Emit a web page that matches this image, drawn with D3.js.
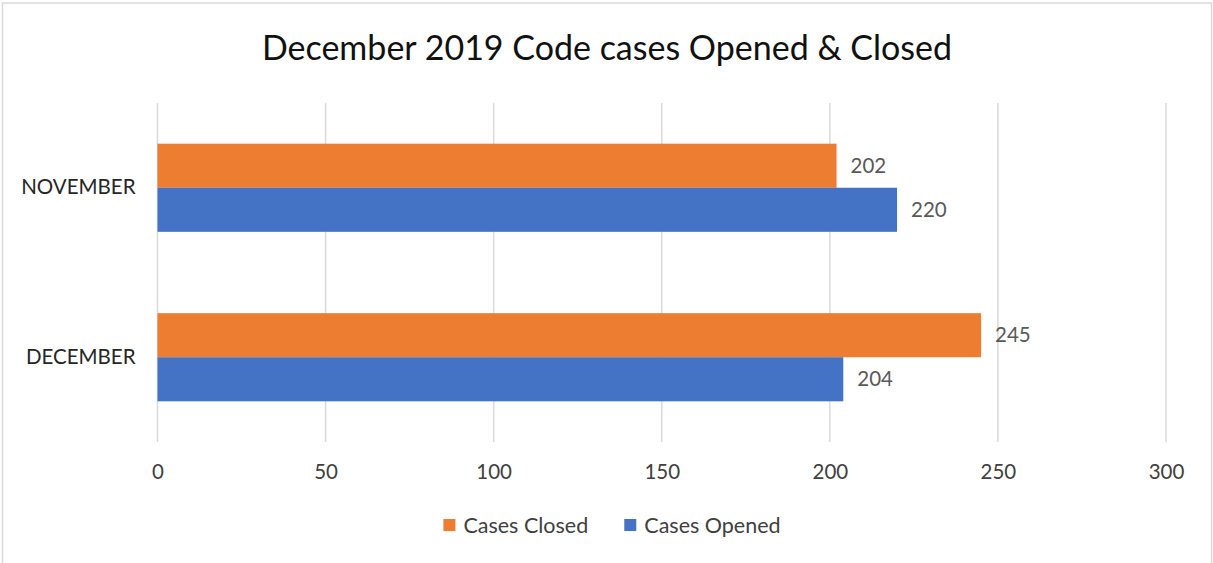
<!DOCTYPE html>
<html>
<head>
<meta charset="utf-8">
<script src="https://cdn.jsdelivr.net/npm/d3@7"></script>
<style>
  body { margin: 0; background: #fff; }
  text { font-family: Lato, "Open Sans", sans-serif; }
</style>
</head>
<body>
<div id="chart"></div>
<script>
const title = "December 2019 Code cases Opened & Closed";
const months = ["NOVEMBER", "DECEMBER"];
const seriesNames = ["Cases Closed", "Cases Opened"];
const casesClosed = [202, 245];
const casesOpened = [220, 204];
const xTicks = [0, 50, 100, 150, 200, 250, 300];
const colors = ["#ED7D31", "#4472C4"];

const width = 1213, height = 563;

const svg = d3.select("#chart")
    .append("svg")
    .attr("width", width)
    .attr("height", height);

// chart frame (bottom edge sits below the picture)
svg.append("rect")
    .attr("x", 2.5).attr("y", 3)
    .attr("width", 1209).attr("height", 580)
    .attr("fill", "#fff")
    .attr("stroke", "#D9D9D9")
    .attr("stroke-width", 1.5);

svg.append("text")
    .attr("x", 607)
    .attr("y", 60)
    .attr("text-anchor", "middle")
    .attr("font-size", 34)
    .attr("fill", "#111")
    .text(title);

const plotTop = 103, plotBottom = 442;

const x = d3.scaleLinear().domain([0, 300]).range([157.5, 1166]);
const y = d3.scaleBand().domain(months).range([plotTop, plotBottom])
    .paddingInner(0.48).paddingOuter(0.24);
const ySeries = d3.scaleBand().domain(seriesNames).range([0, y.bandwidth()]);

// gridlines
svg.append("g")
    .selectAll("line")
    .data(xTicks)
    .join("line")
    .attr("x1", d => x(d)).attr("x2", d => x(d))
    .attr("y1", plotTop).attr("y2", plotBottom)
    .attr("stroke", "#D9D9D9")
    .attr("stroke-width", 1.5);

// x axis labels
const xAxis = svg.append("g")
    .attr("transform", `translate(0,${plotBottom})`)
    .call(d3.axisBottom(x).tickValues(xTicks).tickSize(0).tickPadding(22));
xAxis.select(".domain").remove();
xAxis.selectAll("text")
    .attr("font-size", 20.5)
    .attr("font-family", "Lato, sans-serif")
    .attr("fill", "#404040");

// category labels
const yAxis = svg.append("g")
    .attr("transform", `translate(${x(0)},0)`)
    .call(d3.axisLeft(y).tickSize(0).tickPadding(22));
yAxis.select(".domain").remove();
yAxis.selectAll("text")
    .attr("font-size", 20.5)
    .attr("font-family", "Lato, sans-serif")
    .attr("fill", "#262626");

const rows = months.map((m, i) => ({
    month: m,
    values: [
        { name: seriesNames[0], value: casesClosed[i], color: colors[0] },
        { name: seriesNames[1], value: casesOpened[i], color: colors[1] }
    ]
}));

const groups = svg.append("g")
    .selectAll("g")
    .data(rows)
    .join("g")
    .attr("transform", d => `translate(0,${y(d.month)})`);

groups.selectAll("rect")
    .data(d => d.values)
    .join("rect")
    .attr("x", x(0))
    .attr("y", d => ySeries(d.name))
    .attr("width", d => x(d.value) - x(0))
    .attr("height", ySeries.bandwidth())
    .attr("fill", d => d.color);

groups.selectAll("text")
    .data(d => d.values)
    .join("text")
    .attr("x", d => x(d.value) + 14)
    .attr("y", d => ySeries(d.name) + ySeries.bandwidth() / 2)
    .attr("dy", "0.35em")
    .attr("font-size", 20.5)
    .attr("fill", "#595959")
    .text(d => d.value);

// legend
const legend = svg.append("g").attr("transform", "translate(0,525)");
const items = legend.selectAll("g")
    .data(seriesNames)
    .join("g");
items.append("rect")
    .attr("width", 12).attr("height", 12)
    .attr("y", -6)
    .attr("fill", (d, i) => colors[i]);
items.append("text")
    .attr("x", 20)
    .attr("dy", "0.35em")
    .attr("font-size", 21.5)
    .attr("fill", "#404040")
    .text(d => d);

let offsets = [], total = 0;
items.each(function () {
    offsets.push(total);
    total += this.getBBox().width + 36;
});
total -= 36;
items.attr("transform", (d, i) => `translate(${612 - total / 2 + offsets[i]},0)`);
</script>
</body>
</html>
